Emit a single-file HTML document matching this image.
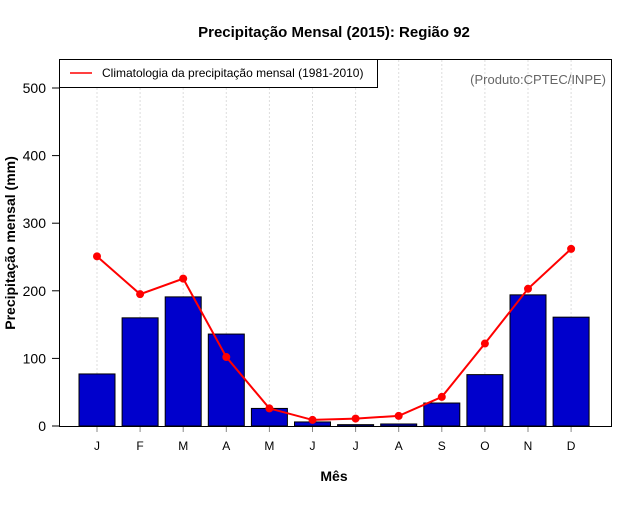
<!DOCTYPE html>
<html><head><meta charset="utf-8"><style>
body{margin:0;background:#fff;font-family:"Liberation Sans",sans-serif}
</style></head><body>
<svg id="c" width="640" height="500" xmlns="http://www.w3.org/2000/svg">
<text x="334" y="37" text-anchor="middle" font-size="15" font-weight="bold">Precipitação Mensal (2015): Região 92</text>
<text x="334" y="481" text-anchor="middle" font-size="14" font-weight="bold">Mês</text>
<text transform="translate(15,243) rotate(-90)" text-anchor="middle" font-size="14" font-weight="bold">Precipitação mensal (mm)</text>
<g id="grid"></g><g id="bars"></g><g id="line"></g><g id="axes"></g>
<rect x="59.5" y="59.5" width="552" height="367" fill="none" stroke="#000"/>
<g>
<rect x="59.5" y="59.5" width="318" height="28" fill="#fff" stroke="#000"/>
<line x1="70" y1="73" x2="92" y2="73" stroke="red" stroke-width="1.5"/>
<text x="102" y="77" font-size="12">Climatologia da precipitação mensal (1981-2010)</text>
</g>
<text x="606" y="84" text-anchor="end" font-size="13" fill="#666">(Produto:CPTEC/INPE)</text>
</svg>
<script>
const months=["J","F","M","A","M","J","J","A","S","O","N","D"];
const precip=[77,160,191,136,26,6,2,3,34,76,194,161];
const clim=[251,195,218,102,26,9,11,15,43,122,203,262];
const yTicks=[0,100,200,300,400,500];
const NS="http://www.w3.org/2000/svg";
const xs=i=>97+i*43.1;
const ys=v=>426-v*0.676;
function mk(p,t,a){const e=document.createElementNS(NS,t);for(const k in a)e.setAttribute(k,a[k]);document.getElementById(p).appendChild(e);return e;}
months.forEach((m,i)=>{
 const g=mk("grid","line",{x1:xs(i),x2:xs(i),y1:60,y2:426,stroke:"#ddd","stroke-dasharray":"2,2"});
 
 
 const b=mk("bars","rect",{x:xs(i)-18,y:ys(precip[i]),width:36,height:426-ys(precip[i]),fill:"#0000cc",stroke:"#000"});
 
 
 const t=mk("axes","line",{x1:xs(i),x2:xs(i),y1:426,y2:432,stroke:"#888"});
 
 
 const l=mk("axes","text",{x:xs(i),y:450,"text-anchor":"middle","font-size":"12"});l.textContent=m;
 
 
});
const pl=mk("line","polyline",{points:clim.map((v,i)=>xs(i)+","+ys(v)).join(" "),fill:"none",stroke:"red","stroke-width":2});


clim.forEach((v,i)=>{const c=mk("line","circle",{cx:xs(i),cy:ys(v),r:4,fill:"red"});
 
 });
yTicks.forEach(v=>{
 const t=mk("axes","line",{x1:52,x2:59,y1:ys(v),y2:ys(v),stroke:"#000"});
 
 
 const l=mk("axes","text",{x:46,y:ys(v)+5,"text-anchor":"end","font-size":"14"});l.textContent=v;
 
 
});
</script>
</body></html>
